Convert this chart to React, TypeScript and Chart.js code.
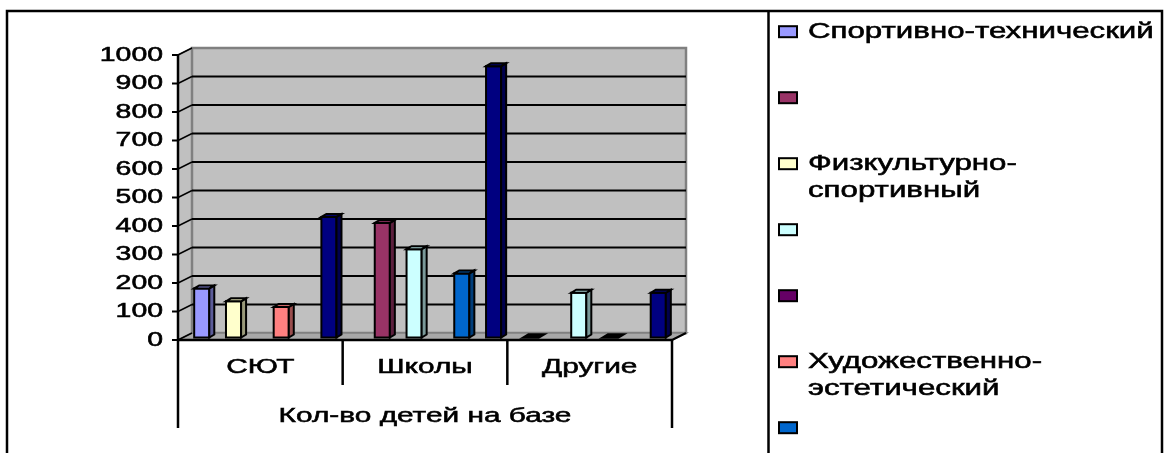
import React, { useEffect, useRef } from "react";
import { Chart, registerables } from "chart.js";

Chart.register(...registerables);

// ---------- data ----------
const categories = ["СЮТ", "Школы", "Другие"];
const groupTitle = "Кол-во детей на базе";
const yTicks = [0, 100, 200, 300, 400, 500, 600, 700, 800, 900, 1000];

const seriesNames = [
  "Спортивно-технический",
  "",
  "Физкультурно-спортивный",
  "",
  "",
  "Художественно-эстетический",
  "",
  "",
  "",
];
const seriesColors = [
  "#9999FF",
  "#993366",
  "#FFFFCC",
  "#CCFFFF",
  "#660066",
  "#FF8080",
  "#0066CC",
  "#CCCCFF",
  "#000080",
];
const sportTech = [172, null, 0];
const series2 = [null, 402, null];
const physSport = [127, null, null];
const series4 = [null, 310, 157];
const series5 = [null, null, null];
const artAesthetic = [107, null, 0];
const series7 = [null, 225, null];
const series8 = [null, null, null];
const series9 = [423, 952, 157];
const seriesValues = [
  sportTech,
  series2,
  physSport,
  series4,
  series5,
  artAesthetic,
  series7,
  series8,
  series9,
];

// ---------- geometry / style ----------
const W = 1167;
const H = 453;
const WDX = 14; // wall depth offset
const WDY = -7;
const BX0 = 5; // bar front-face offset (mid depth)
const BY0 = -2.5;
const BDX = 5; // bar depth
const BDY = -3;
const FONT = '"Liberation Sans", Arial, sans-serif';
const SX = 1.42; // horizontal stretch of text

function shade(hex: string, k: number) {
  const n = parseInt(hex.slice(1), 16);
  const r = Math.round(((n >> 16) & 255) * k);
  const g = Math.round(((n >> 8) & 255) * k);
  const b = Math.round((n & 255) * k);
  return `rgb(${r},${g},${b})`;
}

function textW(ctx: CanvasRenderingContext2D, s: string, size: number) {
  ctx.save();
  ctx.font = `${size}px ${FONT}`;
  const w = ctx.measureText(s).width * SX;
  ctx.restore();
  return w;
}

function drawText(
  ctx: CanvasRenderingContext2D,
  s: string,
  x: number,
  y: number,
  align: "left" | "right" | "center",
  size: number
) {
  ctx.save();
  ctx.font = `${size}px ${FONT}`;
  ctx.textBaseline = "middle";
  ctx.textAlign = "left";
  ctx.fillStyle = "#000";
  ctx.strokeStyle = "#000";
  ctx.lineWidth = 0.55;
  const w = ctx.measureText(s).width * SX;
  const left = align === "right" ? x - w : align === "center" ? x - w / 2 : x;
  ctx.translate(left, y);
  ctx.scale(SX, 1);
  ctx.fillText(s, 0, 0);
  ctx.strokeText(s, 0, 0);
  ctx.restore();
}

function poly(ctx: CanvasRenderingContext2D, pts: number[][], fill: string | null, stroke: string | null, lw = 1) {
  ctx.beginPath();
  ctx.moveTo(pts[0][0], pts[0][1]);
  for (let i = 1; i < pts.length; i++) ctx.lineTo(pts[i][0], pts[i][1]);
  ctx.closePath();
  if (fill) {
    ctx.fillStyle = fill;
    ctx.fill();
  }
  if (stroke) {
    ctx.strokeStyle = stroke;
    ctx.lineWidth = lw;
    ctx.lineJoin = "miter";
    ctx.stroke();
  }
}

function line(ctx: CanvasRenderingContext2D, x1: number, y1: number, x2: number, y2: number, color: string, lw: number) {
  ctx.beginPath();
  ctx.moveTo(x1, y1);
  ctx.lineTo(x2, y2);
  ctx.strokeStyle = color;
  ctx.lineWidth = lw;
  ctx.stroke();
}

const threeD = {
  id: "threeD",
  beforeDraw(chart: any) {
    const ctx: CanvasRenderingContext2D = chart.ctx;
    const { left, right, top, bottom } = chart.chartArea;
    const y = chart.scales.y;
    ctx.save();
    ctx.fillStyle = "#fff";
    ctx.fillRect(0, 0, W, H);

    // side wall
    poly(ctx, [[left, top], [left + WDX, top + WDY], [left + WDX, bottom + WDY], [left, bottom]], "#C0C0C0", "#808080", 1.5);
    // back wall
    poly(
      ctx,
      [[left + WDX, top + WDY], [right + WDX, top + WDY], [right + WDX, bottom + WDY], [left + WDX, bottom + WDY]],
      "#C0C0C0",
      "#808080",
      2.5
    );
    // floor
    poly(ctx, [[left, bottom], [right, bottom], [right + WDX, bottom + WDY], [left + WDX, bottom + WDY]], "#A8A8A8", "#808080", 1.5);

    // gridlines on back wall + connectors on side wall
    for (const v of yTicks) {
      const py = y.getPixelForValue(v);
      if (v !== yTicks[0] && v !== yTicks[yTicks.length - 1]) {
        line(ctx, left + WDX, py + WDY, right + WDX, py + WDY, "#000", 2);
      }
      line(ctx, left, py, left + WDX, py + WDY, "#000", 1.5);
    }
    ctx.restore();
  },
  beforeDatasetsDraw(chart: any) {
    const ctx: CanvasRenderingContext2D = chart.ctx;
    ctx.save();
    const n = chart.data.labels.length;
    for (let i = 0; i < n; i++) {
      chart.data.datasets.forEach((ds: any, d: number) => {
        const v = ds.data[i];
        if (v === null || v === undefined) return;
        const el = chart.getDatasetMeta(d).data[i];
        const l = el.x - el.width / 2 + BX0;
        const r = el.x + el.width / 2 + BX0;
        const t = el.y + BY0;
        const b = el.base + BY0;
        const col = ds.backgroundColor as string;
        const lw = 2;
        if (b - t > 0.5) {
          poly(ctx, [[l, t], [r, t], [r, b], [l, b]], col, "#000", lw);
          poly(ctx, [[r, t], [r + BDX, t + BDY], [r + BDX, b + BDY], [r, b]], shade(col, 0.6), "#000", lw);
          poly(ctx, [[l, t], [l + BDX, t + BDY], [r + BDX, t + BDY], [r, t]], shade(col, 0.8), "#000", lw);
        } else {
          // flat (zero) column: only its outline is visible
          poly(ctx, [[l, t], [l + BDX, t + BDY], [r + BDX, t + BDY], [r, t]], "#000", "#000", 2.5);
        }
      });
    }
    ctx.restore();
    return false;
  },
  afterDraw(chart: any) {
    const ctx: CanvasRenderingContext2D = chart.ctx;
    const { left, right, top, bottom } = chart.chartArea;
    const y = chart.scales.y;
    const x = chart.scales.x;
    ctx.save();
    ctx.lineCap = "butt";

    // y axis
    line(ctx, left, top - 1, left, 428, "#000", 2.5);
    for (const v of yTicks) {
      const py = y.getPixelForValue(v);
      line(ctx, left - 6, py, left, py, "#000", 2);
      drawText(ctx, String(v), 163, py, "right", 20);
    }
    // x axis base
    line(ctx, left, bottom, right, bottom, "#000", 2.5);
    line(ctx, right, bottom, right + WDX, bottom + WDY, "#000", 2);
    line(ctx, right, bottom, right, 428, "#000", 2.5);
    const n = categories.length;
    const cw = (right - left) / n;
    for (let i = 1; i < n; i++) {
      const px = left + cw * i;
      line(ctx, px, bottom, px, 385, "#000", 2.5);
    }
    for (let i = 0; i < n; i++) {
      drawText(ctx, String(chart.data.labels[i]), x.getPixelForValue(i), 367, "center", 21);
    }
    drawText(ctx, groupTitle, (left + right) / 2, 416, "center", 21);

    // frame
    ctx.strokeStyle = "#000";
    ctx.lineWidth = 2.5;
    ctx.beginPath();
    ctx.moveTo(7, H + 5);
    ctx.lineTo(7, 11);
    ctx.lineTo(1162, 11);
    ctx.lineTo(1162, H + 5);
    ctx.stroke();
    line(ctx, 768.5, 11, 768.5, H + 5, "#000", 2.5);

    // legend
    const maxW = 1156 - 808;
    chart.data.datasets.forEach((ds: any, i: number) => {
      const cy = 31.7 + 66 * i;
      ctx.fillStyle = ds.backgroundColor;
      ctx.fillRect(779, cy - 5.5, 18, 11);
      ctx.strokeStyle = "#000";
      ctx.lineWidth = 2;
      ctx.strokeRect(779, cy - 5.5, 18, 11);
      const label: string = ds.label;
      if (!label) return;
      let lines = [label];
      if (textW(ctx, label, 22) > maxW && label.includes("-")) {
        const k = label.indexOf("-");
        lines = [label.slice(0, k + 1), label.slice(k + 1)];
      }
      lines.forEach((s, j) => drawText(ctx, s, 808, cy + j * 27, "left", 22));
    });
    ctx.restore();
  },
};

export default function App() {
  const ref = useRef<HTMLCanvasElement>(null);
  useEffect(() => {
    const canvas = ref.current!;
    const chart = new Chart(canvas, {
      type: "bar",
      data: {
        labels: categories,
        datasets: seriesNames.map((name, i) => ({
          label: name,
          data: seriesValues[i] as any,
          backgroundColor: seriesColors[i],
          borderColor: "#000",
          borderWidth: 1.5,
        })),
      },
      options: {
        responsive: false,
        animation: false,
        devicePixelRatio: 1,
        layout: { padding: { left: 178, top: 55, right: W - 672, bottom: H - 340 } },
        plugins: { legend: { display: false }, tooltip: { enabled: false } },
        datasets: { bar: { categoryPercentage: 0.869, barPercentage: 0.95 } },
        scales: {
          x: { display: false },
          y: { display: false, min: 0, max: 1000 },
        },
      } as any,
      plugins: [threeD as any],
    });
    return () => chart.destroy();
  }, []);
  return (
    <div style={{ position: "absolute", left: 0, top: 0, width: W, height: H, background: "#fff" }}>
      <canvas ref={ref} width={W} height={H} style={{ width: W, height: H, display: "block" }} />
    </div>
  );
}
